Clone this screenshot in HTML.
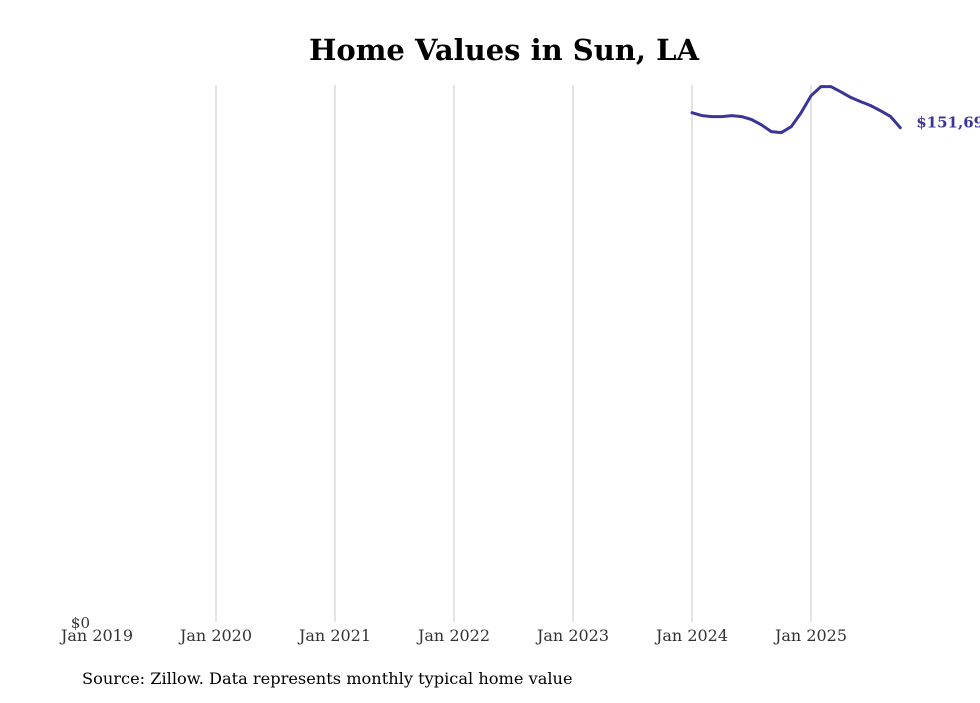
<!DOCTYPE html>
<html><head><meta charset="utf-8"><style>
body{margin:0;background:#fff;width:980px;height:699px;overflow:hidden;font-family:"DejaVu Serif","Liberation Serif",serif}
</style></head><body>
<svg width="980" height="699">
<text x="504" y="60" text-anchor="middle" font-size="29" font-weight="bold">Home Values in Sun, LA</text>
<g id="grid"></g>
<g id="xlabels"></g>
<text x="90" y="628" text-anchor="end" font-size="15" fill="#333">$0</text>
<path id="line" fill="none" stroke="#3a3597" stroke-width="3" stroke-linejoin="round" stroke-linecap="round"/>
<text id="endlabel" font-size="15" font-weight="bold" fill="#3a3597"></text>
<text x="82" y="684" font-size="16.2">Source: Zillow. Data represents monthly typical home value</text>
</svg>
<script>
const years=["Jan 2019","Jan 2020","Jan 2021","Jan 2022","Jan 2023","Jan 2024","Jan 2025"];
const startIndex=60; // months since Jan 2019 of first value (Jan 2024)
const values=[156300,155400,155100,155100,155400,155100,154200,152600,150500,150200,152000,156300,161500,164300,164300,162700,161000,159700,158500,156900,155200,151690];
const yMax=164800;
const x0=97,pxPerMonth=(811-692)/12;
const X=m=>x0+m*pxPerMonth;
const Y=v=>622-v/yMax*(622-85);
const ns="http://www.w3.org/2000/svg";
const grid=document.getElementById('grid'),xl=document.getElementById('xlabels');
years.forEach((t,i)=>{
  const x=X(i*12);
  if(i>0){const l=document.createElementNS(ns,'line');
  l.setAttribute('x1',x);l.setAttribute('x2',x);l.setAttribute('y1',85);l.setAttribute('y2',622);
  l.setAttribute('stroke','#c8c8c8');l.setAttribute('stroke-width','1');
  
  
  grid.appendChild(l);}
  const tx=document.createElementNS(ns,'text');
  tx.setAttribute('x',x);tx.setAttribute('y',641);tx.setAttribute('text-anchor','middle');
  tx.setAttribute('font-size','16');tx.setAttribute('fill','#333');tx.textContent=t;
  
  
  xl.appendChild(tx);
});
let d='';
values.forEach((v,i)=>{d+=(i?'L':'M')+X(startIndex+i).toFixed(1)+','+Y(v).toFixed(1);});
document.getElementById('line').setAttribute('d',d);
const last=values.length-1,el=document.getElementById('endlabel');
el.setAttribute('x',X(startIndex+last)+16);el.setAttribute('y',Y(values[last]));
el.textContent='$'+values[last].toLocaleString('en-US');
</script>
</body></html>
